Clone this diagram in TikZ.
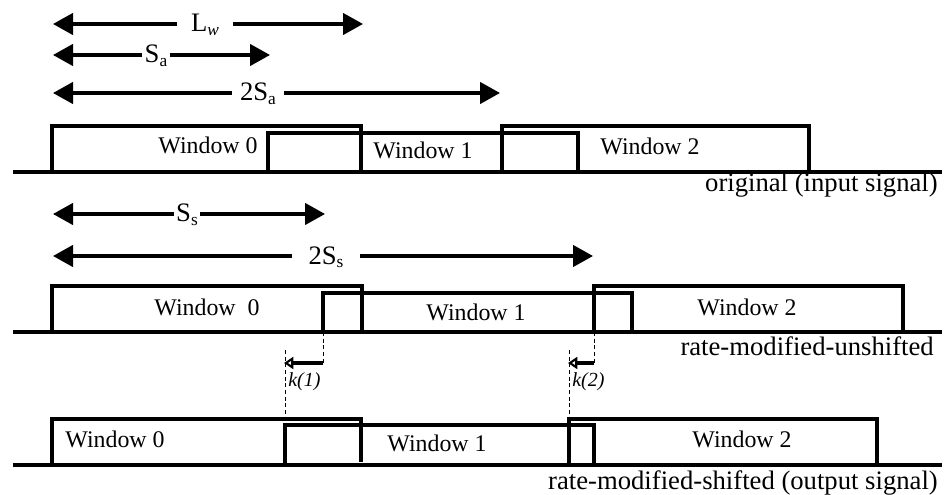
\documentclass[tikz,border=0pt]{standalone}
\usepackage{fontspec}
\setmainfont{Liberation Serif}
\usetikzlibrary{arrows.meta}
\tikzset{
  sigline/.style={line width=3.3pt},
  win/.style={line width=2.3pt, line join=miter},
  dimln/.style={line width=2.5pt, -{Triangle[length=15pt,width=16pt]}},
  kshift/.style={line width=2.3pt, -{Triangle[open,length=7pt,width=9pt,fill=white,line width=1.6pt]}},
  guide/.style={dashed, dash pattern=on 3pt off 2pt, line width=0.6pt},
  wtext/.style={font=\fontsize{17.9}{20}\selectfont, anchor=base, inner sep=0pt},
  ltext/.style={font=\fontsize{20}{22}\selectfont, anchor=base east, inner sep=0pt},
  dtext/.style={font=\fontsize{20}{22}\selectfont, anchor=base, inner ysep=0pt},
  ktext/.style={font=\fontsize{15}{17}\selectfont\itshape, anchor=base west, inner sep=0pt},
}
\newcommand{\sbs}[1]{\raisebox{-0.3ex}{\fontsize{13}{14}\selectfont #1}}
\begin{document}
\begin{tikzpicture}[x=0.75pt,y=-0.75pt]
\useasboundingbox (0,0) rectangle (948,495);

% ---------- dimension arrows (top) ----------
\coordinate (lwL) at (53,24);  \coordinate (lwR) at (363,24);
\coordinate (saL) at (53,55);  \coordinate (saR) at (270,55);
\coordinate (tsaL) at (53,93); \coordinate (tsaR) at (500,93);
\node[dtext, inner xsep=10pt] (lw) at (205,32) {L\sbs{\itshape w}};
\node[dtext, inner xsep=1.5pt] (sa) at (156,63) {S\sbs{a}};
\node[dtext, inner xsep=6pt] (tsa) at (258,101) {2S\sbs{a}};
\draw[dimln] (lw.west |- lwL) -- (lwL);
\draw[dimln] (lw.east |- lwR) -- (lwR);
\draw[dimln] (sa.west |- saL) -- (saL);
\draw[dimln] (sa.east |- saR) -- (saR);
\draw[dimln] (tsa.west |- tsaL) -- (tsaL);
\draw[dimln] (tsa.east |- tsaR) -- (tsaR);

% ---------- row 1: original ----------
\draw[sigline] (13,172) -- (942,172);
\draw[win] (52,172) |- (361,126) -- (361,172);
\draw[win] (268,172) |- (578,133) -- (578,172);
\draw[win] (502,172) |- (809,126) -- (809,172);
\node[wtext] (a0) at (208,154) {Window 0};
\node[wtext] (a1) at (423,159) {Window 1};
\node[wtext] (a2) at (650,155) {Window 2};
\node[ltext] (lab1) at (938,192) {original (input signal)};

% ---------- row 2 dimension arrows ----------
\coordinate (ssL) at (53,214);  \coordinate (ssR) at (325,214);
\coordinate (tssL) at (53,256); \coordinate (tssR) at (593,256);
\node[dtext, inner xsep=1.5pt] (ss) at (187,222) {S\sbs{s}};
\node[dtext, inner xsep=12pt] (tss) at (326,264) {2S\sbs{s}};
\draw[dimln] (ss.west |- ssL) -- (ssL);
\draw[dimln] (ss.east |- ssR) -- (ssR);
\draw[dimln] (tss.west |- tssL) -- (tssL);
\draw[dimln] (tss.east |- tssR) -- (tssR);

% ---------- row 2: rate-modified-unshifted ----------
\draw[sigline] (13,332) -- (942,332);
\draw[win] (52,332) |- (362,286) -- (362,332);
\draw[win] (323,332) |- (632,293) -- (632,332);
\draw[win] (594,332) |- (903,286) -- (903,332);
\node[wtext] (b0) at (207,315) {Window\ \ 0};
\node[wtext] (b1) at (476,320) {Window 1};
\node[wtext] (b2) at (747,315) {Window 2};
\node[ltext] (lab2) at (934,355) {rate-modified-unshifted};

% ---------- shift arrows k(1), k(2) ----------
\coordinate (k1a) at (323,332); \coordinate (k1b) at (323,363);
\coordinate (k1t) at (284,363);
\coordinate (k1c) at (285,350); \coordinate (k1d) at (285,419);
\coordinate (k2a) at (594,332); \coordinate (k2b) at (594,363);
\coordinate (k2t) at (568,363);
\coordinate (k2c) at (569,350); \coordinate (k2d) at (569,419);
\draw[guide] (k1a) -- (k1b);
\draw[guide] (k1c) -- (k1d);
\draw[guide] (k2a) -- (k2b);
\draw[guide] (k2c) -- (k2d);
\draw[kshift] (k1b) -- (k1t);
\draw[kshift] (k2b) -- (k2t);
\node[ktext] (k1) at (288,386) {k(1)};
\node[ktext] (k2) at (572,386) {k(2)};

% ---------- row 3: rate-modified-shifted ----------
\draw[sigline] (13,465) -- (942,465);
\draw[win] (52,465) |- (361,419) -- (361,462);
\draw[win] (285,465) |- (594,425) -- (594,465);
\draw[win] (569,465) |- (877,419) -- (877,465);
\node[wtext] (c0) at (115,447) {Window 0};
\node[wtext] (c1) at (437,451) {Window 1};
\node[wtext] (c2) at (742,447) {Window 2};
\node[ltext] (lab3) at (938,489) {rate-modified-shifted (output signal)};
\end{tikzpicture}
\end{document}
